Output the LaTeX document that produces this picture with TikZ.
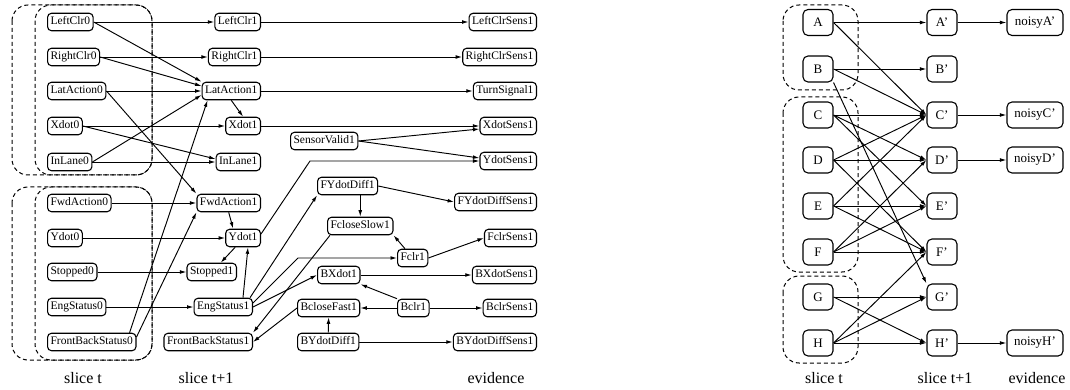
\documentclass[tikz,border=0pt]{standalone}
\usepackage{fontspec}
\setmainfont{Liberation Serif}
\usetikzlibrary{arrows.meta,calc}
\begin{document}
\begin{tikzpicture}[x=1pt,y=-1pt,
 nd/.style={draw,rounded corners=4pt,line width=1.1pt,font=\fontsize{11.5}{12}\selectfont,inner xsep=3pt,inner ysep=0pt,minimum height=17.5pt,text height=8pt,text depth=2.5pt},
 rn/.style={draw,rounded corners=5pt,line width=1.1pt,font=\fontsize{13}{14}\selectfont,minimum width=30pt,minimum height=26pt,inner sep=0pt},
 ev/.style={rn,minimum width=56pt},
 ar/.style={-{Latex[length=6.5pt,width=3.8pt]},line width=0.95pt},
 grp/.style={draw,dash pattern=on 4pt off 3pt,line width=1pt,rounded corners=16pt},
 lab/.style={font=\fontsize{16}{18}\selectfont}]
\useasboundingbox (0,0) rectangle (1070,390);

% ---------- left diagram: groups ----------
\draw[grp] (12,5) rectangle (152,175);
\draw[grp] (35,5) rectangle (152,175);
\draw[grp] (12,187) rectangle (152,360);
\draw[grp] (35,187) rectangle (152,360);

% slice t
\node[nd,anchor=west] (LeftClr0) at (47,22) {LeftClr0};
\node[nd,anchor=west] (RightClr0) at (47,57) {RightClr0};
\node[nd,anchor=west] (LatAction0) at (47,91) {LatAction0};
\node[nd,anchor=west] (Xdot0) at (47,126) {Xdot0};
\node[nd,anchor=west] (InLane0) at (47,162) {InLane0};
\node[nd,anchor=west] (FwdAction0) at (47,203) {FwdAction0};
\node[nd,anchor=west] (Ydot0) at (47,238) {Ydot0};
\node[nd,anchor=west] (Stopped0) at (47,272) {Stopped0};
\node[nd,anchor=west] (EngStatus0) at (47,307) {EngStatus0};
\node[nd,anchor=west] (FrontBackStatus0) at (47,342) {FrontBackStatus0};

% slice t+1
\node[nd,anchor=east] (LeftClr1) at (261,22) {LeftClr1};
\node[nd,anchor=east] (RightClr1) at (261,57) {RightClr1};
\node[nd,anchor=east] (LatAction1) at (261,91) {LatAction1};
\node[nd,anchor=east] (Xdot1) at (261,126) {Xdot1};
\node[nd,anchor=east] (InLane1) at (261,162) {InLane1};
\node[nd,anchor=east] (FwdAction1) at (261,203) {FwdAction1};
\node[nd,anchor=east] (Ydot1) at (261,238) {Ydot1};
\node[nd,anchor=east] (Stopped1) at (237,272) {Stopped1};
\node[nd,anchor=east] (EngStatus1) at (253,307) {EngStatus1};
\node[nd,anchor=east] (FrontBackStatus1) at (253,342) {FrontBackStatus1};

% middle
\node[nd,anchor=west] (SensorValid1) at (290,141) {SensorValid1};
\node[nd,anchor=west] (FYdotDiff1) at (317,186) {FYdotDiff1};
\node[nd,anchor=west] (FcloseSlow1) at (327,226) {FcloseSlow1};
\node[nd,anchor=west] (Fclr1) at (397,258) {Fclr1};
\node[nd,anchor=west] (BXdot1) at (317,275) {BXdot1};
\node[nd,anchor=west] (BcloseFast1) at (297,308) {BcloseFast1};
\node[nd,anchor=west] (Bclr1) at (397,308) {Bclr1};
\node[nd,anchor=west] (BYdotDiff1) at (297,342) {BYdotDiff1};

% evidence
\node[nd,anchor=east] (LeftClrSens1) at (537,22) {LeftClrSens1};
\node[nd,anchor=east] (RightClrSens1) at (537,57) {RightClrSens1};
\node[nd,anchor=east] (TurnSignal1) at (537,91) {TurnSignal1};
\node[nd,anchor=east] (XdotSens1) at (537,126) {XdotSens1};
\node[nd,anchor=east] (YdotSens1) at (537,161) {YdotSens1};
\node[nd,anchor=east] (FYdotDiffSens1) at (537,202) {FYdotDiffSens1};
\node[nd,anchor=east] (FclrSens1) at (537,238) {FclrSens1};
\node[nd,anchor=east] (BXdotSens1) at (537,275) {BXdotSens1};
\node[nd,anchor=east] (BclrSens1) at (537,308) {BclrSens1};
\node[nd,anchor=east] (BYdotDiffSens1) at (537,342) {BYdotDiffSens1};

\node[lab] (lt) at (83,378) {slice t};
\node[lab] (lt1) at (206,378) {slice t+1};
\node[lab] (lev) at (496,378) {evidence};

% left edges
\draw[ar] (LeftClr0.east) -- (LeftClr1.west);
\draw[ar] (LeftClr0.east) -- (LatAction1.north west);
\draw[ar] (RightClr0.east) -- (RightClr1.west);
\draw[ar] (RightClr0.east) -- ($(LatAction1.west)+(0pt,5pt)$);
\draw[ar] (LatAction0.east) -- (LatAction1.west);
\draw[ar] (LatAction0.east) -- (FwdAction1.north west);
\draw[ar] (Xdot0.east) -- (Xdot1.west);
\draw[ar] (Xdot0.east) -- ($(InLane1.west)+(0pt,3pt)$);
\draw[ar] (InLane0.east) -- (InLane1.west);
\draw[ar] (InLane0.east) -- ($(LatAction1.west)+(0pt,-4pt)$);
\draw[ar] (FwdAction0.east) -- (FwdAction1.west);
\draw[ar] (Ydot0.east) -- (Ydot1.west);
\draw[ar] (Stopped0.east) -- (Stopped1.west);
\draw[ar] (EngStatus0.east) -- (EngStatus1.west);
\draw[ar] ($(FrontBackStatus0.north east)+(-7pt,0pt)$) -- ($(LatAction1.south west)+(6pt,0pt)$);
\draw[ar] ($(FrontBackStatus0.east)+(0pt,5pt)$) -- (FwdAction1.south west);

\draw[ar] (LeftClr1.east) -- (LeftClrSens1.west);
\draw[ar] (RightClr1.east) -- (RightClrSens1.west);
\draw[ar] (LatAction1.east) -- (TurnSignal1.west);
\draw[ar] (LatAction1.south) -- (Xdot1.north);
\draw[ar] (Xdot1.east) -- (XdotSens1.west);
\draw[ar] (SensorValid1.east) -- ($(XdotSens1.west)+(0pt,-3pt)$);
\draw[ar] (SensorValid1.east) -- ($(YdotSens1.west)+(0pt,3pt)$);
\coordinate (ybend) at (310,161);
\draw[ar] ($(Ydot1.east)+(0pt,4pt)$) -- (ybend) -- (YdotSens1.west);
\draw[ar] (FwdAction1.south) -- ($(Ydot1.north west)+(8pt,0pt)$);
\draw[ar] ($(Ydot1.south west)+(10pt,0pt)$) -- ($(Stopped1.north)+(9pt,0pt)$);
\draw[ar] ($(EngStatus1.north east)+(-10pt,0pt)$) -- ($(Ydot1.south east)+(-13pt,0pt)$);
\draw[ar] ($(EngStatus1.north east)+(-3pt,0pt)$) -- (FYdotDiff1.south west);
\coordinate (fbend) at (298,258);
\draw[ar] ($(EngStatus1.east)+(0pt,4pt)$) -- (fbend) -- (Fclr1.west);
\draw[ar] (EngStatus1.east) -- (BXdot1.west);
\draw[ar] ($(FcloseSlow1.south west)+(3pt,0pt)$) -- (FrontBackStatus1.north east);
\draw[ar] (BcloseFast1.west) -- (FrontBackStatus1.east);
\draw[ar] (FYdotDiff1.south -| FcloseSlow1.north) -- (FcloseSlow1.north);
\draw[ar] (FYdotDiff1.east) -- (FYdotDiffSens1.west);
\draw[ar] ($(Fclr1.north west)+(8pt,0pt)$) -- (FcloseSlow1.south east);
\draw[ar] (Fclr1.east) -- (FclrSens1.west);
\draw[ar] (BXdot1.east) -- (BXdotSens1.west);
\draw[ar] (Bclr1.north west) -- (BXdot1.south east);
\draw[ar] (Bclr1.west) -- (BcloseFast1.east);
\draw[ar] (Bclr1.east) -- (BclrSens1.west);
\draw[ar] (BYdotDiff1.north) -- (BcloseFast1.south);
\draw[ar] (BYdotDiff1.east) -- (BYdotDiffSens1.west);

% ---------- right diagram ----------
\draw[grp] (783,5) rectangle (858,90);
\draw[grp] (783,97) rectangle (858,272);
\draw[grp] (783,276) rectangle (858,363);

\node[rn] (A) at (818,22.5) {A};
\node[rn] (B) at (818,69) {B};
\node[rn] (C) at (818,115) {C};
\node[rn] (D) at (818,160) {D};
\node[rn] (E) at (818,206) {E};
\node[rn] (F) at (818,252) {F};
\node[rn] (G) at (818,297) {G};
\node[rn] (H) at (818,343) {H};

\node[rn] (Ap) at (942,22.5) {A'};
\node[rn] (Bp) at (942,69) {B'};
\node[rn] (Cp) at (942,115) {C'};
\node[rn] (Dp) at (942,160) {D'};
\node[rn] (Ep) at (942,206) {E'};
\node[rn] (Fp) at (942,252) {F'};
\node[rn] (Gp) at (942,297) {G'};
\node[rn] (Hp) at (942,343) {H'};

\node[ev] (nA) at (1035,22.5) {noisyA'};
\node[ev] (nC) at (1035,115) {noisyC'};
\node[ev] (nD) at (1035,160) {noisyD'};
\node[ev] (nH) at (1035,343) {noisyH'};

\node[lab] (rt) at (824,378) {slice t};
\node[lab] (rt1) at (945,378) {slice t+1};
\node[lab] (rev) at (1037,378) {evidence};

\draw[ar] (A.east) -- (Ap.west);
\draw[ar] (A.east) -- (Cp.west);
\draw[ar] (B.east) -- (Bp.west);
\draw[ar] (B.east) -- (Cp.west);
\draw[ar] (B.south east) -- (Gp.north west);
\draw[ar] (C.east) -- (Cp.west);
\draw[ar] (C.east) -- (Dp.west);
\draw[ar] (C.east) -- (Ep.west);
\draw[ar] (D.east) -- (Cp.west);
\draw[ar] (D.east) -- (Dp.west);
\draw[ar] (D.east) -- (Fp.west);
\draw[ar] (E.east) -- (Cp.west);
\draw[ar] (E.east) -- (Ep.west);
\draw[ar] (E.east) -- (Fp.west);
\draw[ar] (F.east) -- (Dp.west);
\draw[ar] (F.east) -- (Ep.west);
\draw[ar] (F.east) -- (Fp.west);
\draw[ar] (G.east) -- (Gp.west);
\draw[ar] (G.east) -- (Hp.west);
\draw[ar] (H.east) -- (Fp.west);
\draw[ar] (H.east) -- (Gp.west);
\draw[ar] (H.east) -- (Hp.west);
\draw[ar] (Ap.east) -- (nA.west);
\draw[ar] (Cp.east) -- (nC.west);
\draw[ar] (Dp.east) -- (nD.west);
\draw[ar] (Hp.east) -- (nH.west);
\end{tikzpicture}
\end{document}
